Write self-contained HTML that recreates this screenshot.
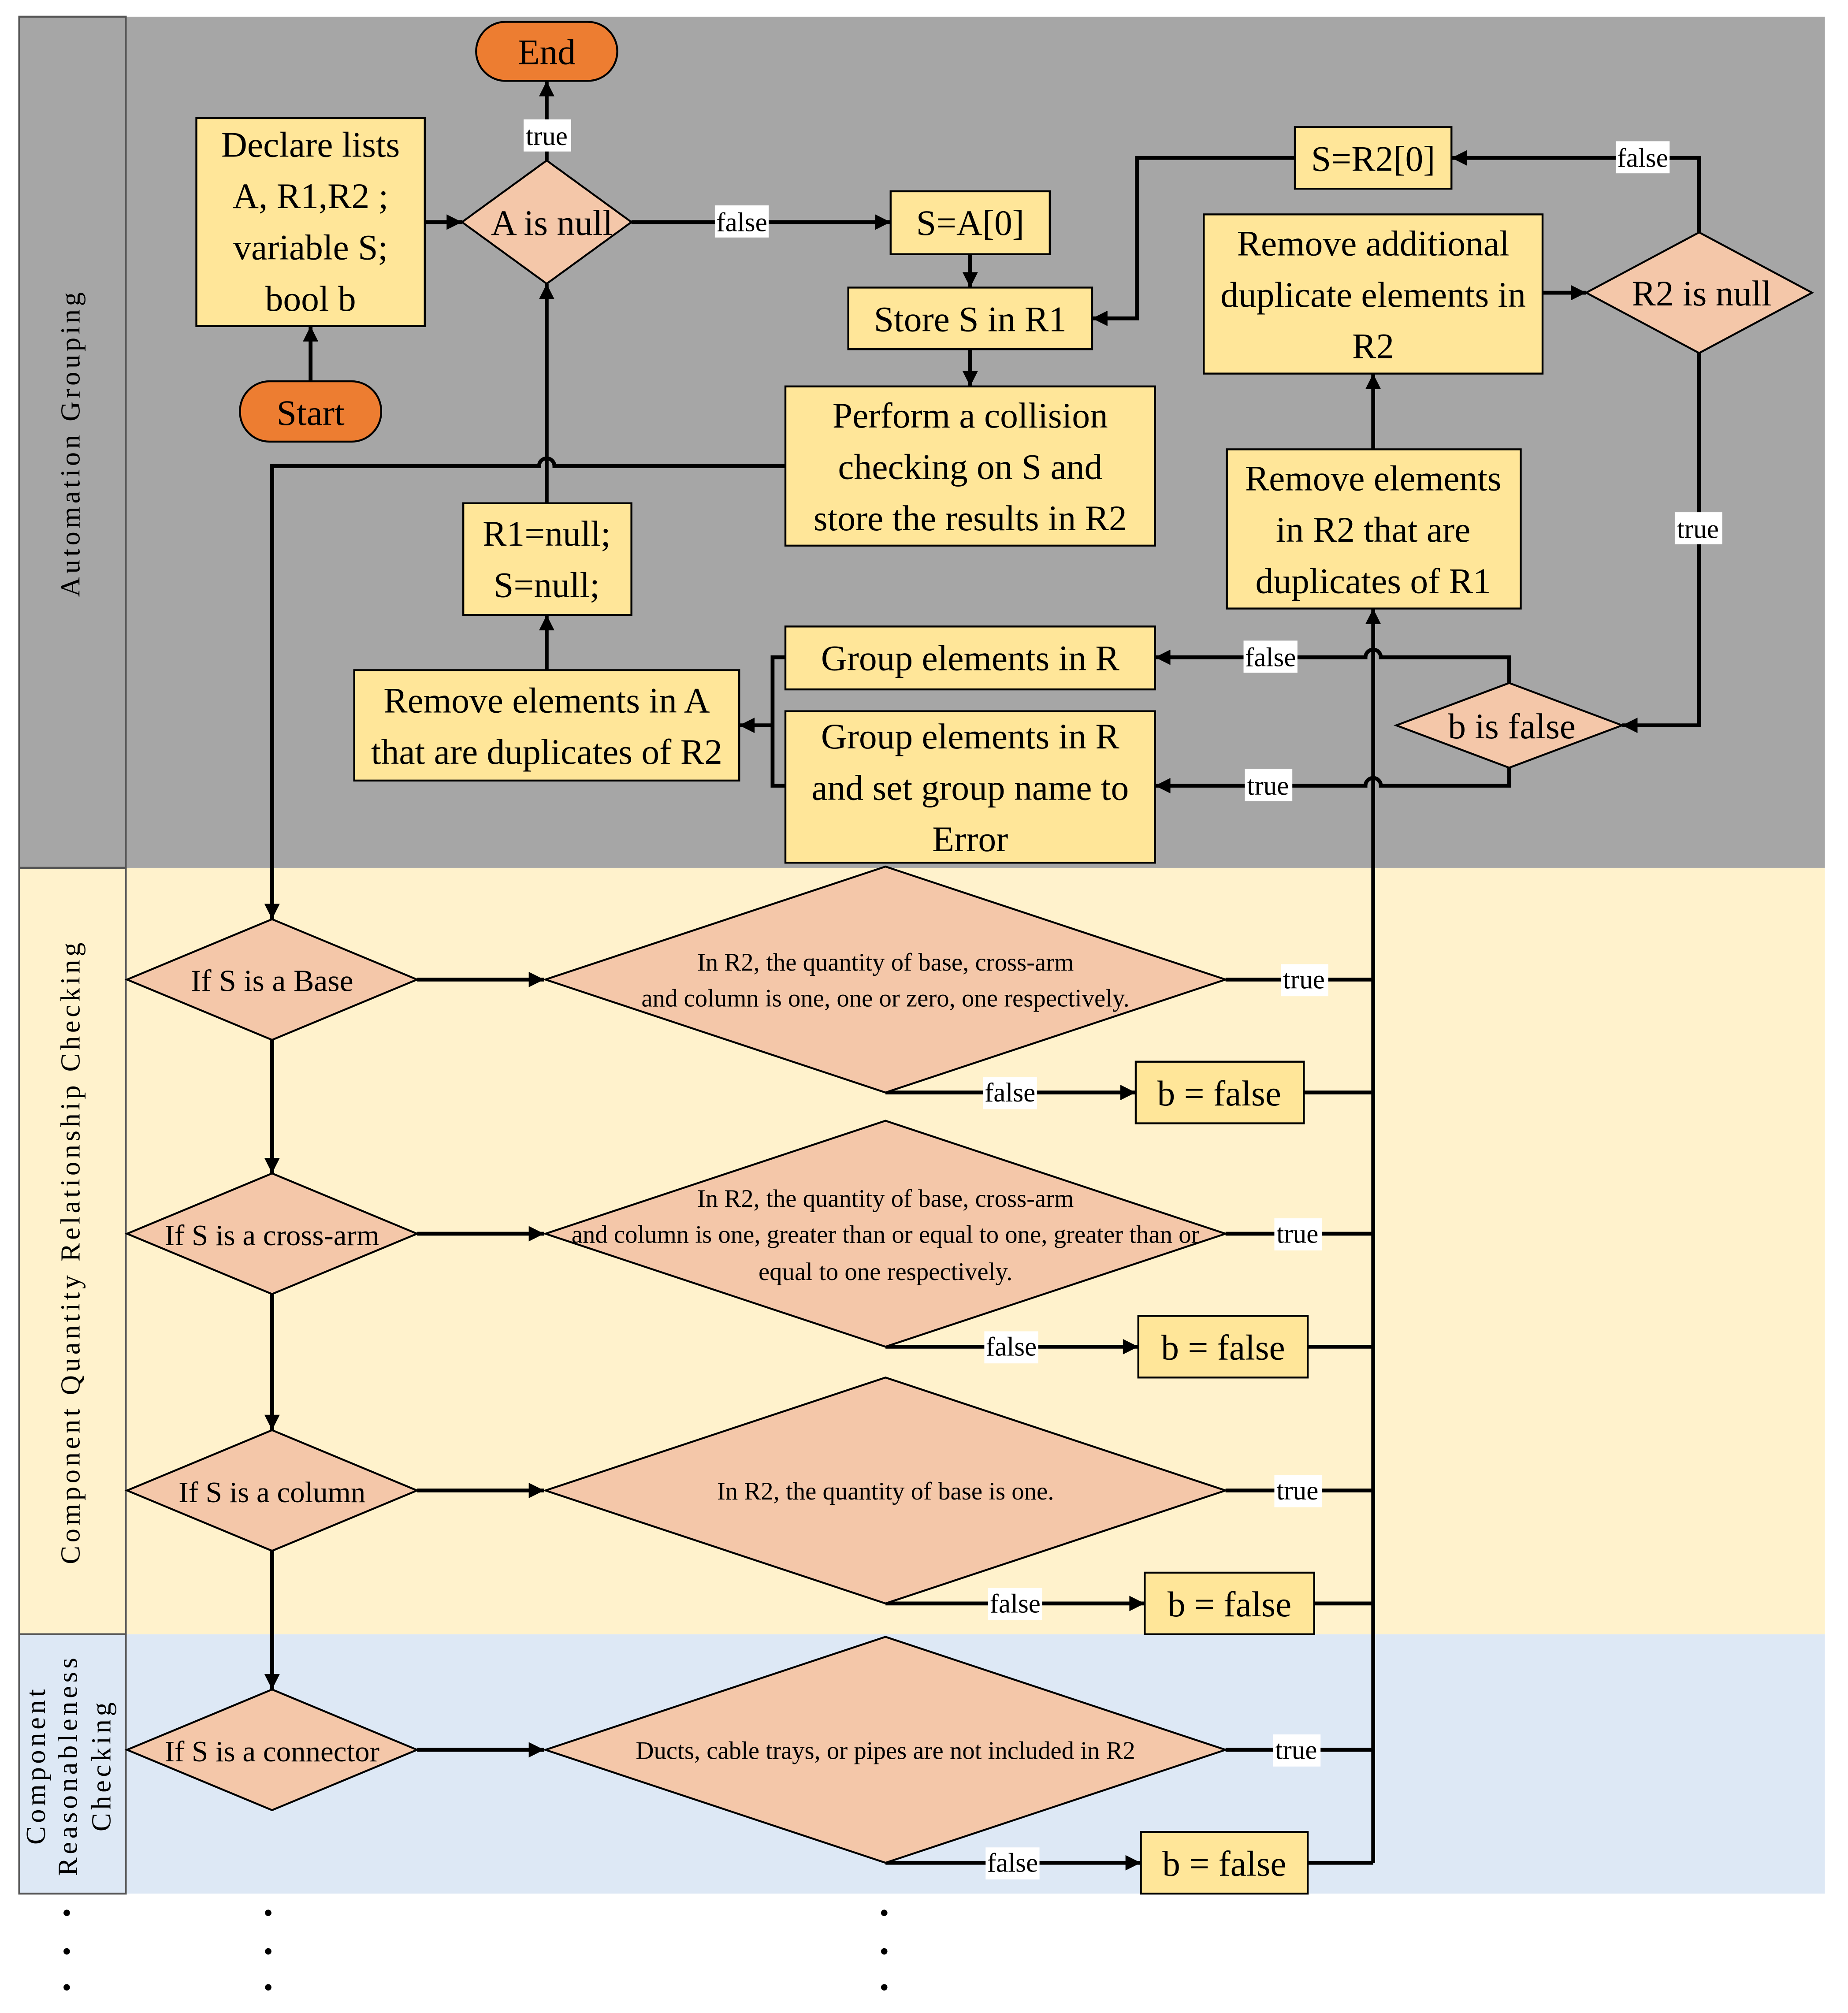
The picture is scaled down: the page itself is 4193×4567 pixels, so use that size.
<!DOCTYPE html>
<html><head><meta charset="utf-8"><style>
html,body{margin:0;padding:0;background:#fff}
svg{display:block}
text{font-family:"Liberation Serif",serif;fill:#000}
.b{font-size:28px}
.s{font-size:19.5px}
.l{font-size:21px}
.lane{font-size:21.5px;letter-spacing:2.6px}
</style></head><body>
<svg width="4193" height="4567" viewBox="0 0 1440 1568" preserveAspectRatio="none" xmlns="http://www.w3.org/2000/svg">
<defs>
<marker id="a" viewBox="0 0 10 10" refX="10" refY="5" markerWidth="15" markerHeight="12" orient="auto" markerUnits="userSpaceOnUse">
<path d="M0 0 L10 5 L0 10 z" fill="#000"/></marker>
</defs>
<style>
.ln{stroke:#000;stroke-width:3;fill:none}
.bx{fill:#ffe699;stroke:#000;stroke-width:1.5}
.dm{fill:#f4c7a9;stroke:#000;stroke-width:1.5}
.lb{fill:#fff}
</style>
<rect x="15" y="13" width="1407" height="663" fill="#a6a6a6"/>
<rect x="15" y="676" width="1407" height="597" fill="#fff2cc"/>
<rect x="15" y="1273" width="1407" height="202" fill="#dde8f5"/>
<rect x="15" y="13" width="83" height="663" fill="none" stroke="#555" stroke-width="1.5"/>
<rect x="15" y="676" width="83" height="597" fill="none" stroke="#555" stroke-width="1.5"/>
<rect x="15" y="1273" width="83" height="202" fill="none" stroke="#555" stroke-width="1.5"/>
<text class="lane" transform="translate(62,345) rotate(-90)" text-anchor="middle">Automation Grouping</text>
<text class="lane" transform="translate(62,975) rotate(-90)" text-anchor="middle">Component Quantity Relationship Checking</text>
<text class="lane" transform="translate(35,1375) rotate(-90)" text-anchor="middle">Component</text>
<text class="lane" transform="translate(60,1375) rotate(-90)" text-anchor="middle">Reasonableness</text>
<text class="lane" transform="translate(86,1375) rotate(-90)" text-anchor="middle">Checking</text>
<g fill="#000">
<circle cx="52" cy="1490" r="2.5"/><circle cx="52" cy="1520" r="2.5"/><circle cx="52" cy="1548" r="2.5"/>
<circle cx="209" cy="1490" r="2.5"/><circle cx="209" cy="1520" r="2.5"/><circle cx="209" cy="1548" r="2.5"/>
<circle cx="689" cy="1490" r="2.5"/><circle cx="689" cy="1520" r="2.5"/><circle cx="689" cy="1548" r="2.5"/>
</g>

<path class="ln" d="M331 173 H360" marker-end="url(#a)"/>
<path class="ln" d="M242 297 V254" marker-end="url(#a)"/>
<path class="ln" d="M426 125 V63" marker-end="url(#a)"/>
<path class="ln" d="M426 392 V221" marker-end="url(#a)"/>
<path class="ln" d="M426 522 V479" marker-end="url(#a)"/>
<path class="ln" d="M492 173 H694" marker-end="url(#a)"/>
<path class="ln" d="M756 198 V224" marker-end="url(#a)"/>
<path class="ln" d="M756 272 V301" marker-end="url(#a)"/>
<path class="ln" d="M612 363 H432 A6 6 0 0 0 420 363 H212 V716" marker-end="url(#a)"/>
<path class="ln" d="M1009 123 H886 V248 H851" marker-end="url(#a)"/>
<path class="ln" d="M1324 181 V123 H1131" marker-end="url(#a)"/>
<path class="ln" d="M1202 228 H1236" marker-end="url(#a)"/>
<path class="ln" d="M1070 350 V291" marker-end="url(#a)"/>
<path class="ln" d="M1324 275 V565 H1264" marker-end="url(#a)"/>
<path class="ln" d="M1176 532 V512 H1076 A6 6 0 0 0 1064 512 H900" marker-end="url(#a)"/>
<path class="ln" d="M1176 598 V612 H1076 A6 6 0 0 0 1064 612 H900" marker-end="url(#a)"/>
<path class="ln" d="M612 512 H602 V612 H612"/>
<path class="ln" d="M602 565 H576" marker-end="url(#a)"/>
<path class="ln" d="M1070 1451 V474" marker-end="url(#a)"/>

<g>
<path class="ln" d="M325 763 H424" marker-end="url(#a)"/>
<path class="ln" d="M955 763 H1070"/>
<path class="ln" d="M690 851 H885" marker-end="url(#a)"/>
<path class="ln" d="M1016 851 H1070"/>
<path class="ln" d="M212 810 V914" marker-end="url(#a)"/>
<path class="ln" d="M325 961 H424" marker-end="url(#a)"/>
<path class="ln" d="M955 961 H1070"/>
<path class="ln" d="M690 1049 H887" marker-end="url(#a)"/>
<path class="ln" d="M1019 1049 H1070"/>
<path class="ln" d="M212 1008 V1114" marker-end="url(#a)"/>
<path class="ln" d="M325 1161 H424" marker-end="url(#a)"/>
<path class="ln" d="M955 1161 H1070"/>
<path class="ln" d="M690 1249 H892" marker-end="url(#a)"/>
<path class="ln" d="M1024 1249 H1070"/>
<path class="ln" d="M212 1208 V1316" marker-end="url(#a)"/>
<path class="ln" d="M325 1363 H424" marker-end="url(#a)"/>
<path class="ln" d="M955 1363 H1070"/>
<path class="ln" d="M690 1451 H889" marker-end="url(#a)"/>
<path class="ln" d="M1019 1451 H1070"/>
</g>

<rect x="371" y="17" width="110" height="46" rx="23" fill="#ed7d31" stroke="#000" stroke-width="1.5"/>
<text class="b" x="426" y="50" text-anchor="middle">End</text>
<rect x="187" y="297" width="110" height="47" rx="23" fill="#ed7d31" stroke="#000" stroke-width="1.5"/>
<text class="b" x="242" y="331" text-anchor="middle">Start</text>
<rect class="bx" x="153" y="92" width="178" height="162"/>
<text class="b" text-anchor="middle"><tspan x="242" y="122">Declare lists</tspan><tspan x="242" y="162">A, R1,R2 ;</tspan><tspan x="242" y="202">variable S;</tspan><tspan x="242" y="242">bool b</tspan></text>
<polygon class="dm" points="360,173 426,125 492,173 426,221"/>
<text class="b" x="430" y="183" text-anchor="middle">A is null</text>
<rect class="bx" x="694" y="149" width="124" height="49"/>
<text class="b" x="756" y="183" text-anchor="middle">S=A[0]</text>
<rect class="bx" x="661" y="224" width="190" height="48"/>
<text class="b" x="756" y="258" text-anchor="middle">Store S in R1</text>
<rect class="bx" x="612" y="301" width="288" height="124"/>
<text class="b" text-anchor="middle"><tspan x="756" y="333">Perform a collision</tspan><tspan x="756" y="373">checking on S and</tspan><tspan x="756" y="413">store the results in R2</tspan></text>
<rect class="bx" x="361" y="392" width="131" height="87"/>
<text class="b" text-anchor="middle"><tspan x="426" y="425">R1=null;</tspan><tspan x="426" y="465">S=null;</tspan></text>
<rect class="bx" x="276" y="522" width="300" height="86"/>
<text class="b" text-anchor="middle"><tspan x="426" y="555">Remove elements in A</tspan><tspan x="426" y="595">that are duplicates of R2</tspan></text>
<rect class="bx" x="612" y="488" width="288" height="49"/>
<text class="b" x="756" y="522" text-anchor="middle">Group elements in R</text>
<rect class="bx" x="612" y="554" width="288" height="118"/>
<text class="b" text-anchor="middle"><tspan x="756" y="583">Group elements in R</tspan><tspan x="756" y="623">and set group name to</tspan><tspan x="756" y="663">Error</tspan></text>
<rect class="bx" x="1009" y="99" width="122" height="48"/>
<text class="b" x="1070" y="133" text-anchor="middle">S=R2[0]</text>
<rect class="bx" x="938" y="167" width="264" height="124"/>
<text class="b" text-anchor="middle"><tspan x="1070" y="199">Remove additional</tspan><tspan x="1070" y="239">duplicate elements in</tspan><tspan x="1070" y="279">R2</tspan></text>
<polygon class="dm" points="1236,228 1324,181 1412,228 1324,275"/>
<text class="b" x="1326" y="238" text-anchor="middle">R2 is null</text>
<rect class="bx" x="956" y="350" width="229" height="124"/>
<text class="b" text-anchor="middle"><tspan x="1070" y="382">Remove elements</tspan><tspan x="1070" y="422">in R2 that are</tspan><tspan x="1070" y="462">duplicates of R1</tspan></text>
<polygon class="dm" points="1088,565 1176,532 1264,565 1176,598"/>
<text class="b" x="1178" y="575" text-anchor="middle">b is false</text>

<rect class="lb" x="408" y="93" width="37" height="25"/><text class="l" x="426" y="113" text-anchor="middle">true</text>
<rect class="lb" x="557" y="160" width="42" height="25"/><text class="l" x="578" y="180" text-anchor="middle">false</text>
<rect class="lb" x="1259" y="110" width="42" height="25"/><text class="l" x="1280" y="130" text-anchor="middle">false</text>
<rect class="lb" x="1305" y="399" width="37" height="25"/><text class="l" x="1323" y="419" text-anchor="middle">true</text>
<rect class="lb" x="969" y="499" width="42" height="25"/><text class="l" x="990" y="519" text-anchor="middle">false</text>
<rect class="lb" x="970" y="599" width="37" height="25"/><text class="l" x="988" y="619" text-anchor="middle">true</text>

<polygon class="dm" points="99,763 212,716 325,763 212,810"/>
<text class="b" x="212" y="772" text-anchor="middle" style="font-size:24px">If S is a Base</text>
<polygon class="dm" points="425,763 690,675 955,763 690,851"/>
<text class="s" text-anchor="middle"><tspan x="690" y="756">In R2, the quantity of base, cross-arm</tspan><tspan x="690" y="784">and column is one, one or zero, one respectively.</tspan></text>
<rect class="bx" x="885" y="827" width="131" height="48"/>
<text class="b" x="950" y="861" text-anchor="middle">b = false</text>

<polygon class="dm" points="99,961 212,914 325,961 212,1008"/>
<text class="b" x="212" y="970" text-anchor="middle" style="font-size:23px">If S is a cross-arm</text>
<polygon class="dm" points="425,961 690,873 955,961 690,1049"/>
<text class="s" text-anchor="middle"><tspan x="690" y="940">In R2, the quantity of base, cross-arm</tspan><tspan x="690" y="968">and column is one,  greater than or equal to one, greater than or</tspan><tspan x="690" y="997">equal to one respectively.</tspan></text>
<rect class="bx" x="887" y="1025" width="132" height="48"/>
<text class="b" x="953" y="1059" text-anchor="middle">b = false</text>

<polygon class="dm" points="99,1161 212,1114 325,1161 212,1208"/>
<text class="b" x="212" y="1170" text-anchor="middle" style="font-size:23px">If S is a column</text>
<polygon class="dm" points="425,1161 690,1073 955,1161 690,1249"/>
<text class="s" x="690" y="1168" text-anchor="middle">In R2, the quantity of base is one.</text>
<rect class="bx" x="892" y="1225" width="132" height="48"/>
<text class="b" x="958" y="1259" text-anchor="middle">b = false</text>

<polygon class="dm" points="99,1363 212,1316 325,1363 212,1410"/>
<text class="b" x="212" y="1372" text-anchor="middle" style="font-size:23px">If S is a connector</text>
<polygon class="dm" points="425,1363 690,1275 955,1363 690,1451"/>
<text class="s" x="690" y="1370" text-anchor="middle">Ducts, cable trays, or pipes are not included in R2</text>
<rect class="bx" x="889" y="1427" width="130" height="48"/>
<text class="b" x="954" y="1461" text-anchor="middle">b = false</text>

<rect class="lb" x="998" y="751" width="37" height="25"/><text class="l" x="1016" y="770" text-anchor="middle">true</text>
<rect class="lb" x="766" y="839" width="42" height="25"/><text class="l" x="787" y="858" text-anchor="middle">false</text>
<rect class="lb" x="993" y="949" width="37" height="25"/><text class="l" x="1011" y="968" text-anchor="middle">true</text>
<rect class="lb" x="767" y="1037" width="42" height="25"/><text class="l" x="788" y="1056" text-anchor="middle">false</text>
<rect class="lb" x="993" y="1149" width="37" height="25"/><text class="l" x="1011" y="1168" text-anchor="middle">true</text>
<rect class="lb" x="770" y="1237" width="42" height="25"/><text class="l" x="791" y="1256" text-anchor="middle">false</text>
<rect class="lb" x="992" y="1351" width="37" height="25"/><text class="l" x="1010" y="1370" text-anchor="middle">true</text>
<rect class="lb" x="768" y="1439" width="42" height="25"/><text class="l" x="789" y="1458" text-anchor="middle">false</text>
</svg>
</body></html>
